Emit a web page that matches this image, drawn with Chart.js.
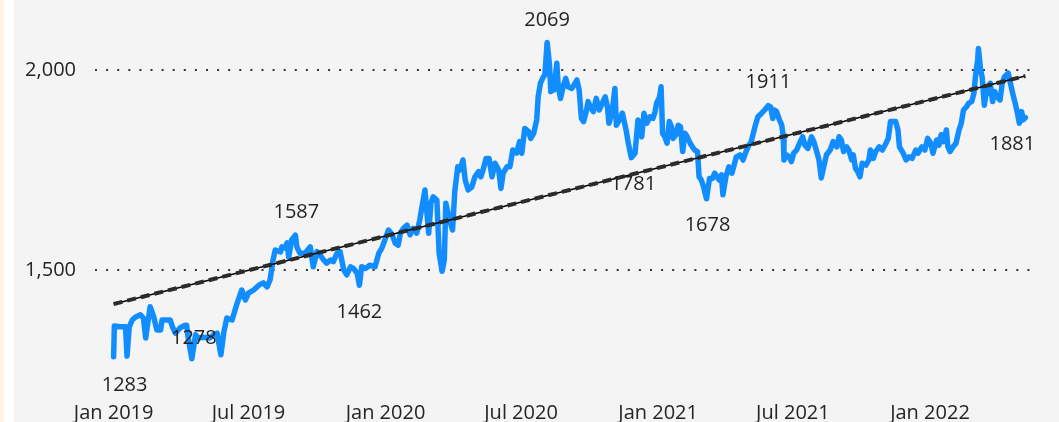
<!DOCTYPE html>
<html>
<head>
<meta charset="utf-8">
<script src="https://cdn.jsdelivr.net/npm/chart.js@4.4.0/dist/chart.umd.min.js"></script>
<style>
  html, body { margin: 0; padding: 0; }
  body { width: 1059px; height: 422px; background: #f4f4f4; position: relative; overflow: hidden; }
  #edge { position: absolute; left: 0; top: 0; width: 4px; height: 422px; background: #fcf5e1; }
  #gap { position: absolute; left: 4px; top: 0; width: 10px; height: 422px; background: #ffffff; }
  #wrap { position: absolute; left: 14px; top: 0; width: 1045px; height: 422px; }
</style>
</head>
<body>
<div id="edge"></div>
<div id="gap"></div>
<div id="wrap"><canvas id="priceChart" width="1045" height="422"></canvas></div>
<script>
// days counted from 2019-01-01
const startDate = '2019-01-01';

const days = [
  0, 1, 9, 16, 18, 21, 25, 29, 36, 40, 43, 49, 54, 58, 63, 65, 72, 76, 79, 83,
  89, 96, 98, 100, 105, 110, 114, 120, 129, 134, 139, 144, 148, 152, 159, 166, 172, 177, 181, 188,
  195, 201, 206, 210, 214, 217, 224, 226, 230, 233, 235, 239, 244, 246, 250, 257, 264,
  268, 273, 277, 282, 286, 291, 295, 300, 304, 309, 313, 318, 322, 327, 330, 333, 338, 344, 351,
  356, 360, 365, 369, 374, 378, 382, 385, 389, 394, 398, 402, 407, 411, 414, 418, 423, 426, 429, 434,
  437, 441, 444, 446, 451, 455, 458, 462, 465, 469, 472, 476,
  481, 485, 490, 493, 496, 500, 504, 508, 512, 517, 520, 523, 528, 532, 536, 541, 545, 548, 552, 557,
  560, 564, 568, 570, 573, 577, 579, 582, 585, 587, 590, 591, 595, 597, 600, 604, 607, 610, 615, 618,
  622, 625, 628, 631, 635, 637, 640, 644, 648, 652, 657, 660, 663, 665, 669, 673, 675, 679, 683, 688,
  691, 695, 700,
  704, 709, 712, 716, 720, 724, 727, 729, 733, 735, 737, 740, 743, 746, 749, 751, 755, 758, 761, 764,
  767, 770, 774, 777, 780, 784, 786, 789, 792, 796, 800, 804, 807, 810, 813, 816, 818, 822, 826, 830,
  833, 836, 841, 845, 849, 853, 856, 861, 865, 870, 874, 879, 882, 885, 887, 890, 894, 897, 899, 900,
  903, 907, 910, 913, 917, 921, 925, 928, 932, 937, 940, 944, 947, 950,
  957, 962, 966, 971, 974, 977, 980, 984, 987, 991, 993, 996, 999, 1002, 1005, 1010, 1014, 1016, 1020, 1023,
  1028, 1032, 1037, 1040, 1043, 1046, 1050, 1053, 1055, 1060, 1064, 1068, 1072, 1077, 1080, 1085, 1089, 1093, 1097, 1100,
  1105, 1108, 1111, 1114, 1118, 1120, 1123, 1127, 1131, 1135, 1138, 1141, 1145, 1148, 1152, 1155, 1157, 1160, 1161, 1164,
  1166, 1169, 1172, 1174, 1177, 1180, 1183, 1186, 1190, 1193, 1196, 1201, 1204, 1207, 1211, 1213, 1216, 1219, 1221, 1224
];

const prices = [
  1283, 1360, 1358, 1358, 1285, 1358, 1375, 1382, 1388, 1380, 1330, 1408, 1382, 1350, 1350, 1375, 1375, 1375, 1358, 1342,
  1355, 1362, 1362, 1332, 1278, 1338, 1330, 1332, 1330, 1338, 1342, 1288, 1345, 1380, 1375, 1418, 1450, 1425, 1442, 1450,
  1462, 1468, 1458, 1475, 1525, 1550, 1545, 1558, 1555, 1568, 1532, 1575, 1587, 1558, 1542, 1542, 1558,
  1508, 1546, 1538, 1525, 1517, 1525, 1521, 1542, 1546, 1500, 1488, 1508, 1504, 1492, 1462, 1508, 1504, 1512, 1508,
  1542, 1554, 1579, 1600, 1588, 1567, 1562, 1592, 1604, 1612, 1588, 1604, 1592, 1625, 1658, 1700, 1592, 1667, 1683, 1675,
  1542, 1497, 1525, 1667, 1625, 1600, 1696, 1758, 1750, 1775, 1725, 1700,
  1708, 1733, 1746, 1733, 1750, 1779, 1779, 1733, 1767, 1750, 1704, 1742, 1758, 1758, 1800, 1792, 1821, 1792, 1854, 1846,
  1829, 1842, 1875, 1933, 1967, 1983, 1988, 2069, 2017, 1946, 1954, 1950, 2017, 1958, 1929, 1962, 1979, 1958, 1954, 1962,
  1975, 1950, 1879, 1871, 1900, 1921, 1908, 1896, 1929, 1900, 1921, 1933, 1908, 1867, 1892, 1954, 1862, 1875, 1892, 1850,
  1817, 1781, 1792,
  1875, 1833, 1892, 1867, 1883, 1879, 1896, 1917, 1933, 1958, 1842, 1833, 1817, 1871, 1858, 1829, 1838, 1862, 1858, 1796,
  1842, 1833, 1817, 1808, 1800, 1796, 1733, 1725, 1708, 1678, 1729, 1729, 1742, 1733, 1725, 1738, 1688, 1733, 1758, 1742,
  1762, 1783, 1788, 1775, 1796, 1812, 1821, 1858, 1883, 1892, 1900, 1911, 1908, 1879, 1900, 1896, 1875, 1862, 1833, 1775,
  1788, 1783, 1771, 1792, 1800, 1817, 1833, 1812, 1804, 1833, 1821, 1796, 1775, 1730,
  1788, 1800, 1821, 1808, 1833, 1825, 1796, 1808, 1800, 1775, 1788, 1754, 1746, 1733, 1767, 1762, 1775, 1800, 1779, 1796,
  1808, 1800, 1817, 1829, 1871, 1871, 1871, 1850, 1808, 1792, 1775, 1783, 1779, 1800, 1792, 1808, 1800, 1829, 1817, 1792,
  1825, 1812, 1838, 1821, 1850, 1808, 1796, 1808, 1817, 1850, 1867, 1900, 1908, 1917, 1921, 1942, 1983, 2025, 2054, 2000,
  1983, 1912, 1950, 1942, 1967, 1921, 1946, 1933, 1925, 1967, 1983, 1992, 1967, 1942, 1912, 1896, 1867, 1896, 1875, 1881
];

// trend line end points
const trendDays = [0, 1224];
const trendValues = [1415, 1985];

// labelled points (highs and lows)
const labelDays = [0, 105, 244, 330, 582, 695, 796, 879, 1224];

const tickDates = ['2019-01-01', '2019-07-01', '2020-01-01', '2020-07-01', '2021-01-01', '2021-07-01', '2022-01-01'];
const tickLabels = ['Jan 2019', 'Jul 2019', 'Jan 2020', 'Jul 2020', 'Jan 2021', 'Jul 2021', 'Jan 2022'];
const yTicks = [1500, 2000];

function dayOf(dateStr) {
  return Math.round((Date.parse(dateStr) - Date.parse(startDate)) / 86400000);
}
const tickDays = tickDates.map(dayOf);

const textColor = '#252423';
const fontFamily = '"Open Sans", "Noto Sans", sans-serif';

const pointLabels = {
  id: 'pointLabels',
  afterDatasetsDraw(chart, args, opts) {
    const ctx = chart.ctx;
    const x = chart.scales.x;
    const y = chart.scales.y;
    ctx.save();
    ctx.font = opts.size + 'px ' + fontFamily;
    ctx.fillStyle = textColor;
    ctx.textAlign = 'center';
    ctx.textBaseline = 'middle';
    labelDays.forEach((d, i) => {
      const v = prices[days.indexOf(d)];
      const off = opts.offsets[i];
      ctx.fillText(String(v), x.getPixelForValue(d) + off[0], y.getPixelForValue(v) + off[1]);
    });
    ctx.restore();
  }
};

// no extra padding from tick labels, chart area is set by the two afterFit sizes
function noPadding(scale) {
  scale.paddingTop = 0;
  scale.paddingBottom = 0;
  scale.paddingLeft = 0;
  scale.paddingRight = 0;
}

const ctx = document.getElementById('priceChart').getContext('2d');
new Chart(ctx, {
  type: 'line',
  data: {
    datasets: [
      {
        data: trendDays.map((d, i) => ({ x: d, y: trendValues[i] })),
        borderColor: '#2b2b2b',
        borderWidth: 4,
        borderDash: [9, 5],
        pointRadius: 0,
        order: 0
      },
      {
        data: trendDays.map((d, i) => ({ x: d, y: trendValues[i] })),
        borderColor: '#000000',
        borderWidth: 1.3,
        pointRadius: 0,
        order: 1
      },
      {
        data: days.map((d, i) => ({ x: d, y: prices[i] })),
        borderColor: '#118DFF',
        borderWidth: 5.5,
        borderJoinStyle: 'round',
        borderCapStyle: 'round',
        pointRadius: 0,
        tension: 0,
        order: 2
      }
    ]
  },
  options: {
    responsive: false,
    animation: false,
    devicePixelRatio: 1,
    layout: { padding: { left: 0, right: 24, top: 0, bottom: 0 } },
    plugins: {
      legend: { display: false },
      tooltip: { enabled: false },
      pointLabels: {
        size: 20,
        offsets: [[11, 28], [2, -21], [1, -23], [0, 27], [0, -22], [2, 27], [1, 26], [0, -23], [-13, 27]]
      }
    },
    scales: {
      x: {
        type: 'linear',
        min: -25,
        max: 1237,
        afterBuildTicks: scale => { scale.ticks = tickDays.map(v => ({ value: v })); },
        afterFit: scale => { scale.height = 30; noPadding(scale); },
        grid: { display: false },
        border: { display: false },
        ticks: {
          autoSkip: false,
          maxRotation: 0,
          padding: 1,
          color: textColor,
          font: { family: fontFamily, size: 20 },
          callback: v => tickLabels[tickDays.indexOf(v)]
        }
      },
      y: {
        min: 1195,
        max: 2175,
        afterBuildTicks: scale => { scale.ticks = yTicks.map(v => ({ value: v })); },
        afterFit: scale => { scale.width = 81; noPadding(scale); },
        grid: { color: '#333333', lineWidth: 2, drawTicks: false },
        border: { display: false, dash: [2, 9.1] },
        ticks: {
          padding: 19,
          color: textColor,
          font: { family: fontFamily, size: 20 },
          callback: v => v.toLocaleString('en-US')
        }
      }
    }
  },
  plugins: [pointLabels]
});
</script>
</body>
</html>
